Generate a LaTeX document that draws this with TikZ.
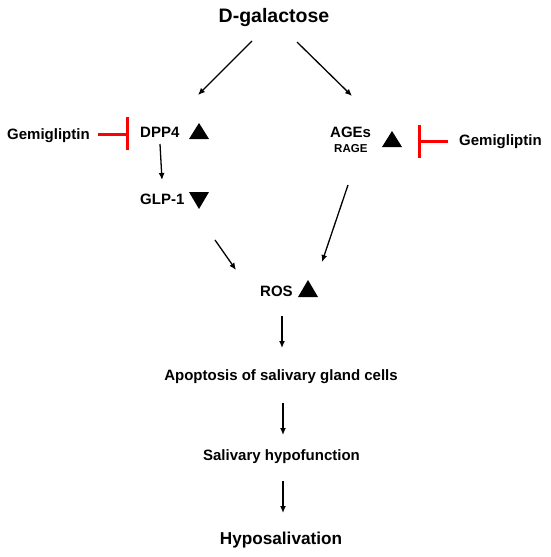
\documentclass[tikz,border=0pt]{standalone}
\usepackage{fontspec}
\setmainfont{Liberation Sans}
\usetikzlibrary{arrows.meta}
\begin{document}
\begin{tikzpicture}[x=1pt,y=-1pt,
  lbl/.style={font=\bfseries\fontsize{15}{18}\selectfont, inner sep=0pt},
  big/.style={font=\bfseries\fontsize{19.5}{22}\selectfont, inner sep=0pt},
  small/.style={font=\bfseries\fontsize{11.5}{13}\selectfont, inner sep=0pt},
  arr/.style={-{Latex[length=7pt,width=6pt]}, line width=1.3pt},
  inhib/.style={draw={rgb,255:red,255;green,0;blue,0}, line width=3pt},
  marker/.style={fill=black}]
\useasboundingbox (0,0) rectangle (550,557);
% texts
\node[big, anchor=base] (dgal) at (274,22) {D-galactose};
\node[lbl, anchor=base west] (gemL) at (7,139) {Gemigliptin};
\node[lbl, anchor=base west] (dpp4) at (140,137) {DPP4};
\node[lbl, anchor=base west] (ages) at (330,137) {AGEs};
\node[small, anchor=base west] (rage) at (334,152) {RAGE};
\node[lbl, anchor=base west] (gemR) at (459,145) {Gemigliptin};
\node[lbl, anchor=base west] (glp1) at (140,204) {GLP-1};
\node[lbl, anchor=base west] (ros) at (260,296) {ROS};
\node[lbl, anchor=base] (apop) at (281,380) {Apoptosis of salivary gland cells};
\node[lbl, anchor=base] (hypof) at (281.5,460) {Salivary hypofunction};
\node[big, font=\bfseries\fontsize{17.2}{20}\selectfont, anchor=base] (hyposal) at (281,544) {Hyposalivation};
% markers
\fill[marker] (189,139) -- (209,139) -- (199,123) -- cycle;
\fill[marker] (189,192) -- (209,192) -- (199,209) -- cycle;
\fill[marker] (382,147) -- (402,147) -- (392,131) -- cycle;
\fill[marker] (298,297) -- (318,297) -- (308,280) -- cycle;
% connector end points
\coordinate (dgL) at (252,41);  \coordinate (dppT) at (198,95);
\coordinate (dgR) at (297,42);  \coordinate (agesT) at (352,96);
\coordinate (dppB) at (160,144); \coordinate (glpT) at (162,180);
\coordinate (glpB) at (215,240); \coordinate (rosL) at (236,270);
\coordinate (agesB) at (348,185); \coordinate (rosR) at (322,262);
\coordinate (rosB) at (282,316); \coordinate (apopT) at (282,348);
\coordinate (apopB) at (283,403); \coordinate (hypofT) at (283,435);
\coordinate (hypofB) at (283,481); \coordinate (hyposalT) at (283,513);
\coordinate (gemLe) at (98,134); \coordinate (barL) at (127,134);
\coordinate (barLt) at (127,117); \coordinate (barLb) at (127,150);
\coordinate (gemRw) at (448,141); \coordinate (barR) at (419,141);
\coordinate (barRt) at (419,125); \coordinate (barRb) at (419,158);
% arrows
\draw[arr] (dgL) -- (dppT);
\draw[arr] (dgR) -- (agesT);
\draw[arr] (dppB) -- (glpT);
\draw[arr] (glpB) -- (rosL);
\draw[arr] (agesB) -- (rosR);
\draw[arr] (rosB) -- (apopT);
\draw[arr] (apopB) -- (hypofT);
\draw[arr] (hypofB) -- (hyposalT);
% inhibition
\draw[inhib] (gemLe) -- (barL);
\draw[inhib] (barLt) -- (barLb);
\draw[inhib] (gemRw) -- (barR);
\draw[inhib] (barRt) -- (barRb);
\end{tikzpicture}
\end{document}
